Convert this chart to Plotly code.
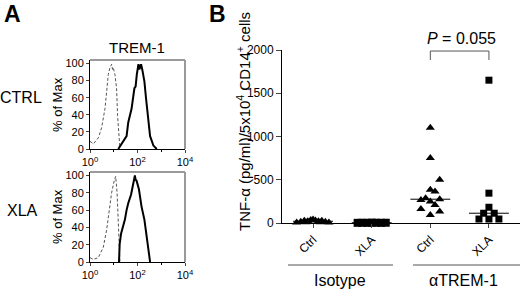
import numpy as np
import plotly.graph_objects as go

# ---------------- Panel A data (flow histograms) ----------------
# x = log10 fluorescence intensity, y = % of Max
ctrl_iso_logx = [0.0, 0.14, 0.35, 0.49, 0.63, 0.70, 0.77, 0.84, 0.91, 0.95, 0.98, 1.05, 1.12, 1.16, 1.22, 1.26]
ctrl_iso_pct = [9, 6, 13, 25, 47, 71, 87, 95, 99, 93, 95, 87, 71, 39, 11, 1]
ctrl_trem_logx = [1.19, 1.40, 1.54, 1.61, 1.75, 1.87, 1.92, 1.97, 2.04, 2.08, 2.11, 2.15, 2.20, 2.29, 2.36, 2.46, 2.53, 2.67, 2.81]
ctrl_trem_pct = [0, 9, 15, 31, 47, 71, 73, 87, 99, 93, 95, 99, 93, 79, 59, 35, 15, 4, 0]

xla_iso_logx = [0.0, 0.14, 0.35, 0.56, 0.70, 0.80, 0.91, 1.02, 1.08, 1.14, 1.19, 1.24, 1.26]
xla_iso_pct = [5, 3, 5, 17, 37, 60, 80, 94, 99, 80, 41, 9, 0]
xla_trem_logx = [1.22, 1.25, 1.31, 1.38, 1.47, 1.54, 1.61, 1.73, 1.82, 1.86, 1.89, 1.92, 1.96, 2.06, 2.17, 2.29, 2.39, 2.46, 2.53]
xla_trem_pct = [0, 21, 33, 39, 49, 60, 68, 78, 90, 96, 100, 95, 94, 84, 64, 49, 29, 9, 0]

hist_tickvals = [1, 100, 10000]
hist_ticktext = ["10<sup>0</sup>", "10<sup>2</sup>", "10<sup>4</sup>"]
hist_yticks = [0, 20, 40, 60, 80, 100]

# ---------------- Panel B data (TNF-alpha) ----------------
categories = ["Ctrl", "XLA", "Ctrl", "XLA"]
tnf_yticks = [0, 500, 1000, 1500, 2000]
iso_ctrl = [5, 15, 25, 20, 35, 40, 30, 20, 25, 15, 5, 10, 10]
iso_xla = [2, 3, 2, 4, 3, 2, 3]
trem_ctrl = [1101, 752, 500, 384, 364, 267, 287, 248, 275, 209, 163, 132, 93]
trem_xla = [1651, 345, 182, 113, 113, 46, 46, 46]

# horizontal jitter (layout only)
iso_ctrl_off = [-0.28, -0.21, -0.15, -0.09, -0.04, 0.0, 0.04, 0.09, 0.15, 0.21, 0.27, -0.12, 0.12]
iso_xla_off = [-0.24, -0.16, -0.08, 0.0, 0.08, 0.16, 0.24]
trem_ctrl_off = [0, 0, 0.16, 0, 0.08, -0.16, -0.08, 0, 0.16, 0.08, -0.16, 0.16, 0]
trem_xla_off = [0, 0, 0, -0.09, 0.09, -0.17, 0, 0.17]

FONT = "Arial, Liberation Sans, sans-serif"
W, H = 520, 289

def px_x(p):
    return p / W

def px_y(p):
    return 1 - p / H

fig = go.Figure()

# Histograms
def add_hist(lx, pct, axis, dashed):
    fig.add_trace(go.Scatter(
        x=np.power(10.0, lx), y=pct, mode="lines",
        line=dict(color="#555555" if dashed else "black", width=1 if dashed else 2,
                  dash="3px,2px" if dashed else "solid"),
        xaxis="x" + axis, yaxis="y" + axis, showlegend=False, hoverinfo="skip"))

add_hist(ctrl_iso_logx, ctrl_iso_pct, "", True)
add_hist(ctrl_trem_logx, ctrl_trem_pct, "", False)
add_hist(xla_iso_logx, xla_iso_pct, "2", True)
add_hist(xla_trem_logx, xla_trem_pct, "2", False)

# Scatter groups
def add_group(idx, vals, offs, symbol, size):
    fig.add_trace(go.Scatter(
        x=[idx + o for o in offs], y=vals, mode="markers",
        marker=dict(symbol=symbol, size=size, color="black", line=dict(width=0)),
        xaxis="x3", yaxis="y3", showlegend=False, cliponaxis=False))
    med = float(np.median(vals))
    fig.add_trace(go.Scatter(
        x=[idx - 0.34, idx + 0.34], y=[med, med], mode="lines",
        line=dict(color="black", width=1), xaxis="x3", yaxis="y3",
        showlegend=False, cliponaxis=False, hoverinfo="skip"))

add_group(0, iso_ctrl, iso_ctrl_off, "triangle-up", 8)
add_group(1, iso_xla, iso_xla_off, "square", 8)
add_group(2, trem_ctrl, trem_ctrl_off, "triangle-up", 8)
add_group(3, trem_xla, trem_xla_off, "square", 7)

hx = dict(type="log", range=[0, 4], domain=[px_x(90), px_x(185)],
          tickvals=hist_tickvals, ticktext=hist_ticktext, ticks="outside", ticklen=3,
          minor=dict(ticks="outside", ticklen=2, dtick=1, tickcolor="black"),
          showline=True, linecolor="black", linewidth=1, showgrid=False, zeroline=False,
          tickfont=dict(family=FONT, size=11, color="black"), fixedrange=True, automargin=False)
hy = dict(range=[0, 104], tickvals=hist_yticks, ticks="outside", ticklen=3,
          showline=True, linecolor="black", linewidth=1, showgrid=False, zeroline=False,
          tickfont=dict(family=FONT, size=11, color="black"), fixedrange=True, automargin=False)

fig.update_layout(
    template="none",
    width=W, height=H, autosize=False,
    margin=dict(l=0, r=0, t=0, b=0, pad=0),
    paper_bgcolor="white", plot_bgcolor="white",
    font=dict(family=FONT, color="black"),
    xaxis=dict(hx, anchor="y"),
    yaxis=dict(hy, domain=[px_y(149), px_y(60)], anchor="x"),
    xaxis2=dict(hx, anchor="y2"),
    yaxis2=dict(hy, domain=[px_y(262), px_y(172)], anchor="x2"),
    xaxis3=dict(range=[-0.53, 3.53], domain=[px_x(282), 1.0], anchor="y3",
                tickvals=[0, 1, 2, 3], ticktext=categories, tickangle=-45,
                ticks="outside", ticklen=4, showline=True, linecolor="black", linewidth=1,
                showgrid=False, zeroline=False, automargin=False,
                tickfont=dict(family=FONT, size=12, color="black")),
    yaxis3=dict(range=[0, 2000], domain=[px_y(223), px_y(50)], anchor="x3",
                tickvals=tnf_yticks, ticks="outside", ticklen=5,
                showline=True, linecolor="black", linewidth=1, showgrid=False, zeroline=False,
                automargin=False,
                tickfont=dict(family=FONT, size=12, color="black")),
)

shapes = []
for ax in ["", "2"]:
    shapes.append(dict(type="line", xref="x" + ax + " domain", yref="y" + ax + " domain",
                       x0=0, x1=1, y0=1, y1=1, line=dict(color="#9a9a9a", width=2)))
    shapes.append(dict(type="line", xref="x" + ax + " domain", yref="y" + ax + " domain",
                       x0=1, x1=1, y0=0, y1=1, line=dict(color="#9a9a9a", width=2)))
# group lines
shapes.append(dict(type="line", xref="paper", yref="paper", x0=px_x(288), x1=px_x(393),
                   y0=px_y(265), y1=px_y(265), line=dict(color="#555555", width=1)))
shapes.append(dict(type="line", xref="paper", yref="paper", x0=px_x(413), x1=px_x(520),
                   y0=px_y(265), y1=px_y(265), line=dict(color="#555555", width=1)))
# significance bracket
shapes.append(dict(type="path", xref="x3", yref="y3",
                   path="M 2,1884 L 2,1988 L 3,1988 L 3,1884",
                   line=dict(color="#555555", width=1)))
fig.update_layout(shapes=shapes)

def ann(text, x, y, size, angle=0, bold=False):
    fig.add_annotation(text=("<b>%s</b>" % text) if bold else text,
                       x=px_x(x), y=px_y(y), xref="paper", yref="paper",
                       showarrow=False, textangle=angle, xanchor="center", yanchor="middle",
                       font=dict(family=FONT, size=size, color="black"))

ann("A", 12, 14, 23, bold=True)
ann("B", 217, 14, 23, bold=True)
ann("TREM-1", 137, 47, 15)
ann("CTRL", 21, 97, 16)
ann("XLA", 22, 210, 16)
ann("% of Max", 57, 105, 13, angle=-90)
ann("% of Max", 57, 217, 13, angle=-90)
ann("TNF-α (pg/ml)/5x10<sup>4</sup> CD14<sup>+</sup> cells", 243, 122, 15, angle=-90)
ann("<i>P</i> = 0.055", 461, 38, 16)
ann("Isotype", 340, 280, 16)
ann("αTREM-1", 463, 280, 16)

post = ("document.documentElement.style.margin='0';"
        "document.documentElement.style.padding='0';"
        "document.documentElement.style.overflow='hidden';"
        "document.body.style.margin='0';"
        "document.body.style.padding='0';"
        "document.body.style.overflow='hidden';"
        "var gd=document.getElementById('{plot_id}');"
        "gd.style.position='absolute';gd.style.left='0px';gd.style.top='0px';")

fig.write_html("out.html", config={"displayModeBar": False, "staticPlot": True},
               post_script=post)
